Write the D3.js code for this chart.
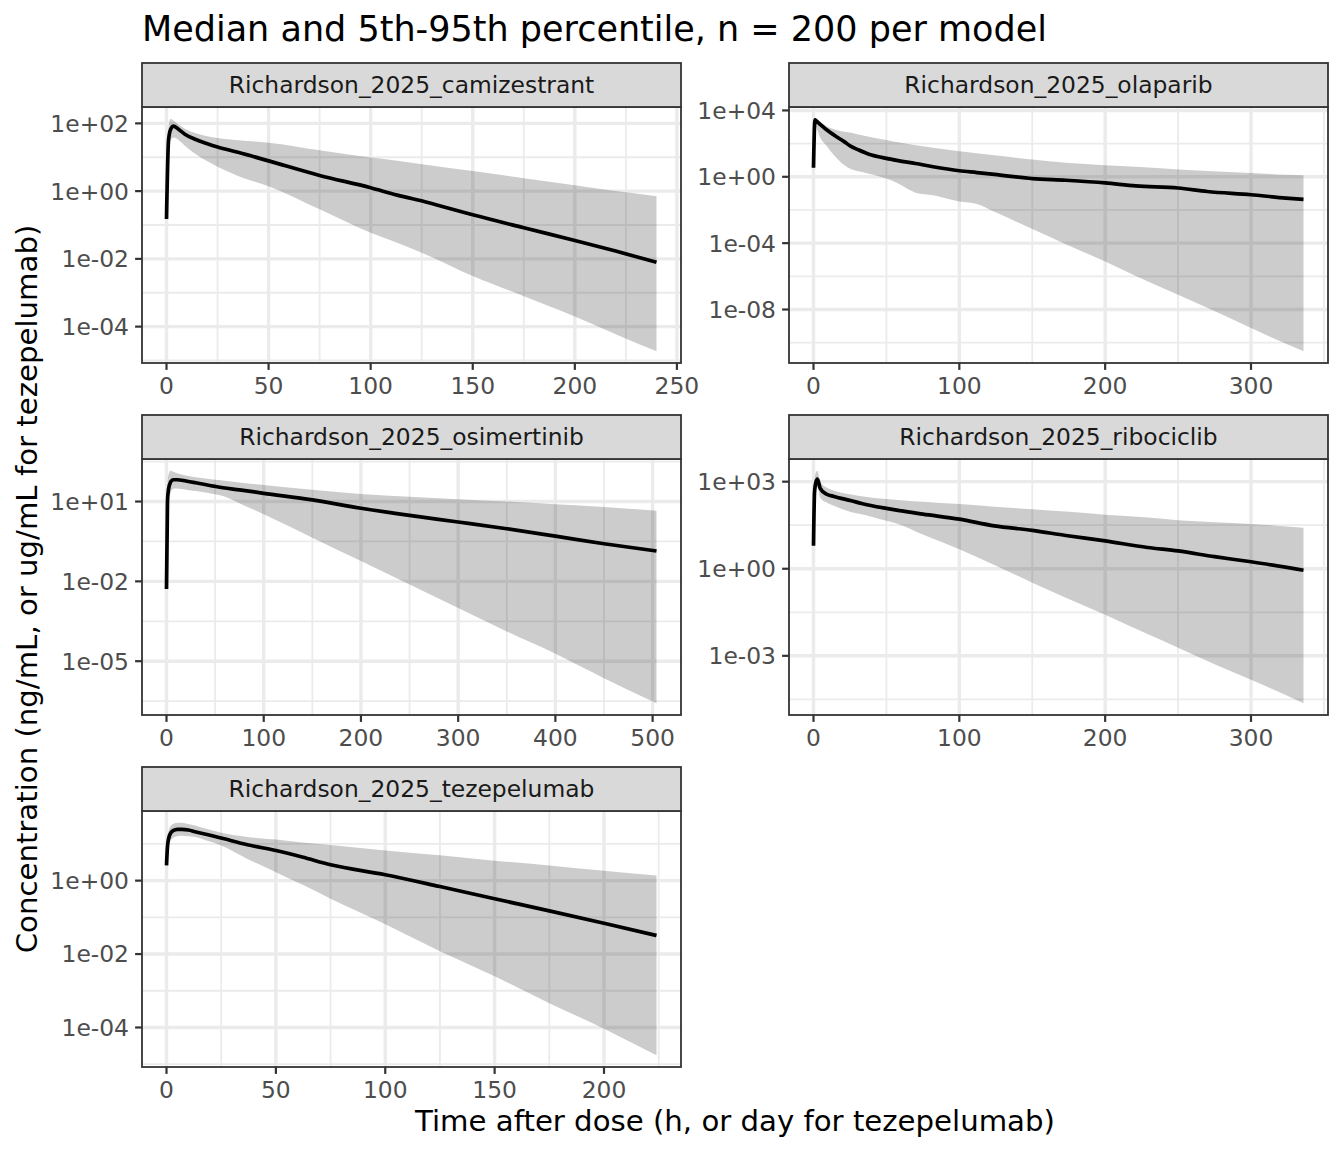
<!DOCTYPE html>
<html>
<head>
<meta charset="utf-8">
<script src="https://cdn.jsdelivr.net/npm/d3@7"></script>
<style>
	body { margin: 0; background: #fff; }
	text { font-family: "DejaVu Sans", sans-serif; }
</style>
</head>
<body>
<div id="chart"></div>
<script>
// facet names
var modelNames = [
	"Richardson_2025_camizestrant",
	"Richardson_2025_olaparib",
	"Richardson_2025_osimertinib",
	"Richardson_2025_ribociclib",
	"Richardson_2025_tezepelumab"
];

// camizestrant (h)
var camTime = [0, 1, 2, 3.5, 6, 9, 14, 20, 25, 35, 50, 75, 100, 113, 127, 150, 175, 200, 220, 240];
var camMedian = [0.15, 32, 66, 83, 66, 48, 34, 25, 20, 14, 7.8, 2.9, 1.26, 0.76, 0.48, 0.2, 0.083, 0.035, 0.017, 0.0079];
var camP95 = [0.2, 79, 138, 120, 93, 69, 52, 42, 37, 32, 27, 16, 9.8, 7.9, 6.0, 3.9, 2.4, 1.5, 1.0, 0.71];
var camP05 = [0.11, 12.6, 32, 38, 32, 22, 12.6, 7.6, 5.2, 2.8, 1.4, 0.29, 0.059, 0.030, 0.0135, 0.0031, 0.00079, 0.0002, 0.00006, 0.0000186];

// olaparib (h)
var olaTime = [0, 1, 2, 5, 9, 14, 21, 26, 30, 38, 50, 58, 70, 82, 100, 112, 124, 150, 173, 200, 221, 250, 270, 300, 324, 336];
var olaMedian = [3.5, 2700, 2300, 1350, 680, 330, 132, 65, 45, 23, 12.9, 9.5, 6.3, 4.0, 2.3, 1.8, 1.4, 0.78, 0.62, 0.43, 0.28, 0.21, 0.13, 0.083, 0.052, 0.044];
var olaP95 = [5, 3200, 2800, 2000, 1120, 740, 525, 457, 363, 263, 166, 120, 81, 56, 35, 26, 20, 11, 6.9, 5.0, 4.0, 2.75, 2.2, 1.7, 1.35, 1.23];
var olaP05 = [2.8, 2000, 1000, 200, 71, 20, 5.2, 2.8, 2.2, 1.55, 0.78, 0.39, 0.11, 0.076, 0.032, 0.023, 0.0078, 7.1e-4, 8.7e-5, 7.8e-6, 1.05e-6, 7.8e-8, 1.26e-8, 7.6e-10, 8.5e-11, 3.0e-11];

// osimertinib (h)
var osiTime = [0, 1, 2, 4, 7, 11, 20, 30, 50, 58, 75, 100, 150, 200, 250, 300, 350, 400, 450, 504];
var osiMedian = [0.0052, 10, 28, 52, 66, 66, 59, 51, 37, 33, 27.5, 20.4, 11.5, 5.6, 3.0, 1.7, 0.95, 0.5, 0.26, 0.138];
var osiP95 = [0.0079, 40, 100, 145, 132, 115, 95, 81, 66, 62, 52, 42, 28, 19, 15, 12.3, 10, 7.9, 6.2, 4.5];
var osiP05 = [0.004, 3.2, 10, 20, 30, 31, 28, 25, 18.6, 16.2, 8.7, 3.3, 0.44, 0.058, 0.0076, 0.001, 1.3e-4, 1.9e-5, 2.3e-6, 2.6e-7];

// ribociclib (h)
var ribTime = [0, 0.7, 1.5, 2.7, 4.6, 9, 14, 26, 33, 50, 58, 75, 100, 124, 150, 173, 200, 229, 250, 275, 300, 336];
var ribMedian = [6.2, 427, 890, 1230, 590, 370, 310, 220, 178, 120, 102, 76, 51, 30, 21, 14, 9.1, 5.4, 4.1, 2.6, 1.74, 0.89];
var ribP95 = [8.9, 1000, 2000, 2400, 955, 630, 490, 363, 316, 251, 234, 204, 170, 138, 112, 93, 72, 58, 47, 40, 35, 26];
var ribP05 = [4.5, 158, 400, 630, 282, 190, 148, 89, 76, 45, 35, 15, 4.7, 1.35, 0.33, 0.1, 0.026, 0.0056, 0.0019, 5.1e-4, 1.5e-4, 2.3e-5];

// tezepelumab (day)
var tezTime = [0, 0.5, 1.5, 3, 5, 7, 10, 13, 19, 25, 37, 50, 62, 75, 100, 125, 150, 175, 200, 224];
var tezMedian = [2.6, 9.1, 17.8, 23, 25, 25, 24, 21.4, 17.8, 14.5, 9.5, 6.6, 4.4, 2.7, 1.45, 0.69, 0.32, 0.15, 0.069, 0.032];
var tezP95 = [3.2, 15.8, 28, 35, 38, 38, 35, 32, 25, 20, 15.5, 13.2, 11, 9.3, 6.6, 4.9, 3.5, 2.6, 1.86, 1.38];
var tezP05 = [2.2, 5.6, 11.2, 14.5, 16.2, 16.6, 16.2, 15.5, 12, 9.1, 3.9, 1.7, 0.78, 0.32, 0.065, 0.012, 0.0025, 4.6e-4, 9.3e-5, 1.74e-5];

// tick labels per facet
var camXTicks = [0, 50, 100, 150, 200, 250];
var olaXTicks = [0, 100, 200, 300];
var osiXTicks = [0, 100, 200, 300, 400, 500];
var ribXTicks = [0, 100, 200, 300];
var tezXTicks = [0, 50, 100, 150, 200];
var camYTicks = ["1e+02", "1e+00", "1e-02", "1e-04"];
var olaYTicks = ["1e+04", "1e+00", "1e-04", "1e-08"];
var osiYTicks = ["1e+01", "1e-02", "1e-05"];
var ribYTicks = ["1e+03", "1e+00", "1e-03"];
var tezYTicks = ["1e+00", "1e-02", "1e-04"];

var chartTitle = "Median and 5th-95th percentile, n = 200 per model";
var xTitle = "Time after dose (h, or day for tezepelumab)";
var yTitle = "Concentration (ng/mL, or ug/mL for tezepelumab)";

// build the facet table
var facets = [
	{ time: camTime, med: camMedian, lo: camP05, hi: camP95, xt: camXTicks, yt: camYTicks },
	{ time: olaTime, med: olaMedian, lo: olaP05, hi: olaP95, xt: olaXTicks, yt: olaYTicks },
	{ time: osiTime, med: osiMedian, lo: osiP05, hi: osiP95, xt: osiXTicks, yt: osiYTicks },
	{ time: ribTime, med: ribMedian, lo: ribP05, hi: ribP95, xt: ribXTicks, yt: ribYTicks },
	{ time: tezTime, med: tezMedian, lo: tezP05, hi: tezP95, xt: tezXTicks, yt: tezYTicks }
];

var W = 1344, H = 1152;
var colLeft = [142, 789],
	panelW = 539,
	rowTop = [63, 415, 767],
	stripH = 44,
	panelH = 256;

var tickFont = "23.4px",
	titleFont = "35px",
	axisTitleFont = "29.2px";

var svg = d3.select("#chart")
	.append("svg")
	.attr("width", W)
	.attr("height", H);

// title
svg.append("text")
	.attr("x", 142)
	.attr("y", 41)
	.style("font-size", titleFont)
	.style("fill", "#000")
	.text(chartTitle);

// midpoints between breaks, one step past each end
function minorBreaks(major) {
	var out = [];
	var step = major[1] - major[0];
	for (var i = -1; i < major.length; i++) {
		var a = i < 0 ? major[0] - step : major[i];
		out.push(a + step / 2);
	}
	return out;
}

function expand(ext) {
	var pad = (ext[1] - ext[0]) * 0.05;
	return [ext[0] - pad, ext[1] + pad];
}

facets.forEach(function (f, i) {
	var left = colLeft[i % 2],
		top = rowTop[Math.floor(i / 2)] + stripH,
		g = svg.append("g").attr("transform", "translate(" + left + "," + top + ")");

	var rows = f.time.map(function (t, k) {
		return { t: t, med: f.med[k], lo: f.lo[k], hi: f.hi[k] };
	});

	// scales, 5% expansion like ggplot (log10 space for y)
	var x = d3.scaleLinear()
		.domain(expand(d3.extent(f.time)))
		.range([0, panelW]);
	var logExt = [Math.log10(d3.min(f.lo)), Math.log10(d3.max(f.hi))];
	var yl = expand(logExt);
	var y = d3.scaleLog()
		.domain([Math.pow(10, yl[0]), Math.pow(10, yl[1])])
		.range([panelH, 0]);

	var yMajor = f.yt.map(function (s) { return Math.log10(+s); });
	var yMinor = minorBreaks(yMajor).filter(function (v) { return v > yl[0] && v < yl[1]; });
	var xDom = x.domain();
	var xMinor = minorBreaks(f.xt).filter(function (v) { return v > xDom[0] && v < xDom[1]; });

	var clipId = "clip" + i;
	g.append("clipPath").attr("id", clipId)
		.append("rect").attr("width", panelW).attr("height", panelH);

	g.append("rect")
		.attr("width", panelW)
		.attr("height", panelH)
		.style("fill", "#fff");

	var grid = g.append("g").attr("clip-path", "url(#" + clipId + ")");
	// minor grid
	grid.selectAll(".ymin").data(yMinor).enter().append("line")
		.attr("x1", 0).attr("x2", panelW)
		.attr("y1", function (d) { return y(Math.pow(10, d)); })
		.attr("y2", function (d) { return y(Math.pow(10, d)); })
		.style("stroke", "#EBEBEB").style("stroke-width", 1.8);
	grid.selectAll(".xmin").data(xMinor).enter().append("line")
		.attr("y1", 0).attr("y2", panelH)
		.attr("x1", function (d) { return x(d); })
		.attr("x2", function (d) { return x(d); })
		.style("stroke", "#EBEBEB").style("stroke-width", 1.8);
	// major grid
	grid.selectAll(".ymaj").data(f.yt).enter().append("line")
		.attr("x1", 0).attr("x2", panelW)
		.attr("y1", function (d) { return y(+d); })
		.attr("y2", function (d) { return y(+d); })
		.style("stroke", "#EBEBEB").style("stroke-width", 3.4);
	grid.selectAll(".xmaj").data(f.xt).enter().append("line")
		.attr("y1", 0).attr("y2", panelH)
		.attr("x1", function (d) { return x(d); })
		.attr("x2", function (d) { return x(d); })
		.style("stroke", "#EBEBEB").style("stroke-width", 3.4);

	// ribbon and median
	var area = d3.area()
		.x(function (d) { return x(d.t); })
		.y0(function (d) { return y(d.lo); })
		.y1(function (d) { return y(d.hi); })
		.curve(d3.curveMonotoneX);
	var line = d3.line()
		.x(function (d) { return x(d.t); })
		.y(function (d) { return y(d.med); })
		.curve(d3.curveMonotoneX);

	grid.append("path")
		.datum(rows)
		.attr("d", area)
		.style("fill", "#000")
		.style("fill-opacity", 0.2);
	grid.append("path")
		.datum(rows)
		.attr("d", line)
		.style("fill", "none")
		.style("stroke", "#000")
		.style("stroke-width", 3.7)
		.style("stroke-linejoin", "round");

	// panel border
	g.append("rect")
		.attr("width", panelW)
		.attr("height", panelH)
		.style("fill", "none")
		.style("stroke", "#333333")
		.style("stroke-width", 1.8);

	// strip
	g.append("rect")
		.attr("y", -stripH)
		.attr("width", panelW)
		.attr("height", stripH)
		.style("fill", "#D9D9D9")
		.style("stroke", "#333333")
		.style("stroke-width", 1.8);
	g.append("text")
		.attr("x", panelW / 2)
		.attr("y", -stripH / 2)
		.attr("dy", "0.36em")
		.attr("text-anchor", "middle")
		.style("font-size", tickFont)
		.style("fill", "#1A1A1A")
		.text(modelNames[i]);

	// axes
	g.selectAll(".xtick").data(f.xt).enter().append("line")
		.attr("x1", function (d) { return x(d); })
		.attr("x2", function (d) { return x(d); })
		.attr("y1", panelH).attr("y2", panelH + 6.9)
		.style("stroke", "#333333").style("stroke-width", 2.2);
	g.selectAll(".xlab").data(f.xt).enter().append("text")
		.attr("x", function (d) { return x(d); })
		.attr("y", panelH + 31)
		.attr("text-anchor", "middle")
		.style("font-size", tickFont)
		.style("fill", "#4D4D4D")
		.text(function (d) { return d; });

	g.selectAll(".ytick").data(f.yt).enter().append("line")
		.attr("x1", -6.9).attr("x2", 0)
		.attr("y1", function (d) { return y(+d); })
		.attr("y2", function (d) { return y(+d); })
		.style("stroke", "#333333").style("stroke-width", 2.2);
	g.selectAll(".ylab").data(f.yt).enter().append("text")
		.attr("x", -13)
		.attr("y", function (d) { return y(+d); })
		.attr("dy", "0.36em")
		.attr("text-anchor", "end")
		.style("font-size", tickFont)
		.style("fill", "#4D4D4D")
		.text(function (d) { return d; });
});

// axis titles
svg.append("text")
	.attr("x", (colLeft[0] + colLeft[1] + panelW) / 2)
	.attr("y", 1131)
	.attr("text-anchor", "middle")
	.style("font-size", axisTitleFont)
	.style("fill", "#000")
	.text(xTitle);

svg.append("text")
	.attr("transform", "translate(37,589) rotate(-90)")
	.attr("text-anchor", "middle")
	.style("font-size", axisTitleFont)
	.style("fill", "#000")
	.text(yTitle);
</script>
</body>
</html>
